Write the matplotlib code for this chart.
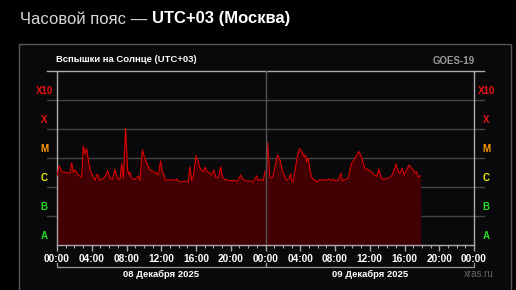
import numpy as np
import matplotlib
matplotlib.use('Agg')
from matplotlib import pyplot as plt
from matplotlib import patches, transforms

plt.rcParams['font.family'] = ['Liberation Sans', 'DejaVu Sans']

# Время в часах от 00:00 08.12.2025 (UTC+03)
hours = [0.0, 0.23, 0.54, 0.92, 1.50, 1.69, 1.88, 2.07, 2.45, 2.84,
         3.03, 3.22, 3.41, 3.61, 3.80, 4.18, 4.37, 4.64, 4.95, 5.33,
         5.52, 5.83, 6.10, 6.37, 6.67, 6.94, 7.25, 7.44, 7.63, 7.90,
         8.13, 8.29, 8.40, 8.59, 8.98, 9.36, 9.55, 9.82, 10.05, 10.32,
         10.70, 11.28, 11.66, 11.92, 12.10, 12.31, 12.43, 12.81, 13.19, 13.58,
         13.77, 13.96, 14.35, 14.73, 15.11, 15.30, 15.50, 15.69, 16.00, 16.26,
         16.46, 16.65, 16.84, 17.03, 17.23, 17.61, 17.80, 18.07, 18.26, 18.57,
         18.84, 19.03, 19.33, 19.72, 20.10, 20.48, 20.75, 21.14, 21.44, 21.83,
         22.21, 22.59, 22.98, 23.16, 23.56, 23.74, 23.94, 24.13, 24.24, 24.40,
         24.51, 24.70, 24.89, 25.09, 25.39, 25.66, 25.93, 26.24, 26.43, 26.70,
         26.89, 27.00, 27.19, 27.47, 27.65, 27.88, 28.16, 28.46, 28.62, 28.73,
         28.92, 29.11, 29.31, 29.49, 29.69, 29.88, 30.26, 30.46, 30.64, 31.03,
         31.22, 31.61, 31.80, 31.99, 32.37, 32.68, 32.83, 33.14, 33.52, 33.72,
         33.91, 34.21, 34.49, 34.75, 35.06, 35.25, 35.44, 35.82, 36.21, 36.51,
         36.79, 37.05, 37.28, 37.55, 37.94, 38.32, 38.59, 38.82, 39.01, 39.28,
         39.47, 39.74, 39.97, 40.24, 40.54, 40.82, 41.00, 41.20, 41.39, 41.58,
         41.77, 41.85]

# Поток рентгеновского излучения, Вт/м2
flux = [2.4e-6, 5.4e-6, 3.4e-6, 3.2e-6, 3.0e-6, 6.9e-6, 3.2e-6, 3.9e-6, 2.6e-6, 2.2e-6,
        2.6e-5, 1.4e-5, 2.1e-5, 8.5e-6, 3.9e-6, 2.2e-6, 1.7e-6, 2.8e-6, 1.7e-6, 2.0e-6,
        2.2e-6, 3.6e-6, 2.1e-6, 1.8e-6, 4.1e-6, 2.0e-6, 1.8e-6, 6.6e-6, 2.0e-6, 1.07e-4,
        3.9e-6, 2.6e-6, 3.2e-6, 2.0e-6, 1.8e-6, 2.4e-6, 1.7e-6, 1.9e-5, 1.1e-5, 6.6e-6,
        3.9e-6, 3.2e-6, 2.6e-6, 8.0e-6, 3.4e-6, 2.6e-6, 1.8e-6, 1.7e-6, 1.8e-6, 1.7e-6,
        1.9e-6, 1.6e-6, 1.5e-6, 1.6e-6, 1.5e-6, 5.0e-6, 1.7e-6, 2.2e-6, 1.2e-5, 7.4e-6,
        4.4e-6, 3.9e-6, 3.4e-6, 4.8e-6, 3.4e-6, 3.0e-6, 2.6e-6, 3.9e-6, 2.2e-6, 2.1e-6,
        5.0e-6, 2.2e-6, 1.8e-6, 1.7e-6, 1.65e-6, 1.7e-6, 1.5e-6, 2.6e-6, 1.8e-6, 1.65e-6,
        1.6e-6, 1.5e-6, 2.4e-6, 1.7e-6, 1.8e-6, 1.7e-6, 3.4e-6, 3.9e-6, 3.4e-5, 6.6e-6,
        2.2e-6, 2.0e-6, 2.6e-6, 5.0e-6, 1.26e-5, 8.5e-6, 3.9e-6, 2.2e-6, 1.7e-6, 2.0e-6,
        2.8e-6, 1.7e-6, 1.5e-6, 5.0e-6, 1.1e-5, 2.1e-5, 1.7e-5, 1.1e-5, 1.26e-5, 7.4e-6,
        9.8e-6, 3.9e-6, 2.2e-6, 1.8e-6, 1.7e-6, 1.5e-6, 1.8e-6, 1.7e-6, 1.8e-6, 1.7e-6,
        1.9e-6, 1.7e-6, 1.9e-6, 1.65e-6, 1.7e-6, 3.0e-6, 1.65e-6, 1.8e-6, 2.0e-6, 3.9e-6,
        6.6e-6, 8.5e-6, 1.26e-5, 1.66e-5, 1.1e-5, 6.6e-6, 4.4e-6, 3.9e-6, 3.4e-6, 2.6e-6,
        2.3e-6, 4.1e-6, 2.2e-6, 1.8e-6, 2.0e-6, 2.1e-6, 2.6e-6, 3.9e-6, 6.2e-6, 3.4e-6,
        3.0e-6, 4.4e-6, 2.6e-6, 3.9e-6, 5.8e-6, 4.4e-6, 3.9e-6, 3.0e-6, 3.4e-6, 2.2e-6,
        2.4e-6, 2.4e-6]

classes = ['A', 'B', 'C', 'M', 'X', 'X10']
class_low = [1e-8, 1e-7, 1e-6, 1e-5, 1e-4, 1e-3]
class_colors = ['#22dd22', '#22dd22', '#eeee00', '#ff9900', '#ee1111', '#ee1111']

day_labels = ['08 Декабря 2025', '09 Декабря 2025']
tick_hours = list(range(0, 49, 4))
tick_labels = ['%02d:00' % (h % 24) for h in tick_hours]

W, H = 516, 290
fig = plt.figure(figsize=(W / 100, H / 100), dpi=100)
fig.patch.set_facecolor('black')

# Панель с рамкой (в отдельных осях под графиком)
bg = fig.add_axes([0, 0, 1, 1], zorder=-10)
bg.set_axis_off()
bg.set_xlim(0, W)
bg.set_ylim(H, 0)
bg.add_patch(patches.Rectangle((19, 44), 492, 260, facecolor='#09090b',
                               edgecolor='#555555', linewidth=1.0))

fig.text(20 / W, 1 - 19 / H, 'Часовой пояс — ', color='#d8d8d8', fontsize=12, va='center')
fig.canvas.draw()
t1 = fig.texts[-1]
ext = t1.get_window_extent(fig.canvas.get_renderer())
fig.text(ext.x1 / W, 1 - 19 / H, 'UTC+03 (Москва)', color='white', fontsize=12,
         fontweight='bold', va='center')

fig.text(56 / W, 1 - 59 / H, 'Вспышки на Солнце (UTC+03)', color='white', fontsize=6.8,
         fontweight='bold', va='center')
fig.text(454 / W, 1 - 61 / H, 'GOES-19', color='#999999', fontsize=7, fontweight='bold',
         ha='center', va='center')
fig.text(479 / W, 1 - 274 / H, 'xras.ru', color='#666666', fontsize=7,
         ha='center', va='center')

ax = fig.add_axes([57 / W, 1 - 245 / H, 417 / W, 174 / H])
ax.set_facecolor('none')
ax.set_yscale('log')
ax.set_xlim(0, 48)
ax.set_ylim(1e-8, 1e-2)

ax.fill_between(hours, flux, 1e-8, color='#420005', linewidth=0, zorder=2)
ax.plot(hours, flux, color='#dd0000', linewidth=0.8, zorder=3)

# Горизонтальные линии классов, выходят за края осей
tr = transforms.blended_transform_factory(ax.transAxes, ax.transData)
for lo in class_low[1:]:
    ax.plot([-0.024, 1.024], [lo, lo], transform=tr, color='#444444', linewidth=1.0,
            clip_on=False, zorder=1)
ax.plot([-0.024, 1.024], [1e-2, 1e-2], transform=tr, color='#aaaaaa', linewidth=1.0,
        clip_on=False, zorder=4)

for name, lo, c in zip(classes, class_low, class_colors):
    y = lo * 10 ** 0.31
    ax.text(-0.031, y, name, transform=tr, color=c, fontsize=7, fontweight='bold',
            ha='center', va='center')
    ax.text(1.029, y, name, transform=tr, color=c, fontsize=7, fontweight='bold',
            ha='center', va='center')

# Полночь
ax.axvline(24, color='#555555', linewidth=1.0, zorder=4)

ax.spines['top'].set_visible(False)
for side in ['left', 'right', 'bottom']:
    ax.spines[side].set_color('#aaaaaa')
    ax.spines[side].set_linewidth(1.0)

ax.set_yticks([])
ax.minorticks_off()
ax.set_xticks(tick_hours)
ax.set_xticklabels(tick_labels)
ax.set_xticks(range(0, 49), minor=True)
ax.tick_params(axis='x', which='major', length=4, width=1, color='#aaaaaa', colors='white',
               labelsize=7.3, pad=2.5)
ax.tick_params(axis='x', which='minor', length=2.5, width=0.8, color='#aaaaaa')
ax.tick_params(axis='y', which='both', left=False, right=False, labelleft=False)
for lbl in ax.get_xticklabels():
    lbl.set_fontweight('bold')
    lbl.set_color('white')

# Подписи дат со скобками
trx = transforms.blended_transform_factory(ax.transData, ax.transAxes)
for i, lbl in enumerate(day_labels):
    x0, x1 = i * 24, (i + 1) * 24
    ax.plot([x0, x0, x1, x1], [-0.103, -0.126, -0.126, -0.103], transform=trx,
            color='#999999', linewidth=0.9, clip_on=False)
    ax.text((x0 + x1) / 2, -0.167, lbl, transform=trx, color='white', fontsize=6.8,
            fontweight='bold', ha='center', va='center')

fig.savefig('out.png', dpi=100, facecolor=fig.get_facecolor())
